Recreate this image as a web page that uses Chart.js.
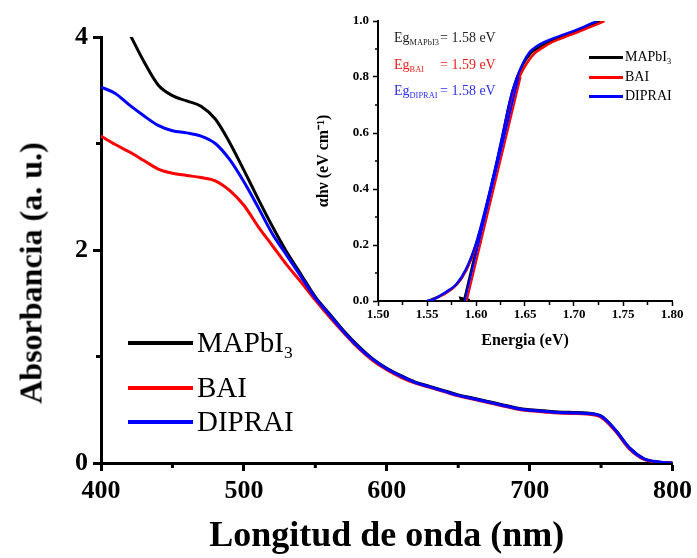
<!DOCTYPE html>
<html>
<head>
<meta charset="utf-8">
<script src="https://cdn.jsdelivr.net/npm/chart.js@4.4.0/dist/chart.umd.min.js"></script>
<style>
body { margin: 0; background: #fff; }
#wrap { position: relative; width: 697px; height: 558px; overflow: hidden; font-family: 'Liberation Serif', 'Times New Roman', serif; }
canvas { position: absolute; }
#main { left: 0; top: 0; }
#inset { left: 300px; top: 0; }
#ytitle { position: absolute; left: 31px; top: 273px; transform: translate(-50%, -50%) rotate(-90deg); font-weight: bold; font-size: 32px; white-space: nowrap; }
.txt { position: absolute; white-space: nowrap; line-height: 1; }
.ln { position: absolute; }
sub { font-size: 0.6em; vertical-align: -0.35em; line-height: 0; }
</style>
</head>
<body>
<div id="wrap">
  <canvas id="main" width="697" height="558"></canvas>
  <canvas id="inset" width="397" height="360"></canvas>
  <div id="ytitle">Absorbancia (a. u.)</div>
</div>
<script>
// absorbance spectra
const wavelengths = [400,410,420,430,440,450,460,470,480,490,500,510,520,530,540,550,560,570,580,590,600,
  610,620,630,640,650,660,670,680,690,700,710,720,730,740,750,760,770,780,790,800];
const absMAPbI3 = [null,null,4.03,3.77,3.55,3.45,3.40,3.35,3.23,3.01,2.75,2.48,2.22,1.98,1.77,1.56,
  1.40,1.24,1.10,0.98,0.89,0.82,0.76,0.72,0.68,0.64,0.61,0.58,0.55,0.52,0.50,0.49,0.48,0.475,0.47,0.44,0.31,0.14,0.04,0.01,0.0];
const absBAI = [3.07,2.99,2.92,2.84,2.76,2.72,2.70,2.68,2.65,2.56,2.42,2.22,2.04,1.86,1.70,1.53,
  1.37,1.22,1.08,0.965,0.875,0.805,0.75,0.71,0.67,0.63,0.60,0.57,0.54,0.51,0.49,0.48,0.47,0.465,0.46,0.43,0.30,0.13,0.035,0.008,0.0];
const absDIPRAI = [3.53,3.47,3.36,3.26,3.17,3.12,3.10,3.07,3.00,2.85,2.64,2.40,2.15,1.95,1.75,1.55,
  1.39,1.23,1.09,0.975,0.885,0.815,0.755,0.715,0.675,0.635,0.605,0.575,0.545,0.515,0.495,0.485,0.475,0.47,0.465,0.44,0.31,0.14,0.04,0.01,0.0];

// tauc plot (inset)
const eMAPbI3 = [1.551,1.558,1.567,1.576,1.585,1.595,1.605,1.615,1.625,1.634,1.641,1.648,1.656,1.664,1.674,1.686,1.698,1.710,1.720,1.727];
const tMAPbI3 = [0.000,0.010,0.025,0.045,0.080,0.150,0.260,0.400,0.555,0.705,0.790,0.845,0.885,0.905,0.925,0.943,0.958,0.975,0.990,1.000];
const eBAI = [1.552,1.560,1.570,1.580,1.590,1.600,1.610,1.620,1.630,1.638,1.645,1.652,1.660,1.668,1.678,1.690,1.700,1.712,1.722,1.731];
const tBAI = [0.000,0.012,0.030,0.058,0.110,0.195,0.325,0.470,0.625,0.740,0.805,0.850,0.885,0.905,0.925,0.942,0.955,0.972,0.986,1.000];
const eDIPRAI = [1.550,1.556,1.564,1.572,1.580,1.590,1.600,1.610,1.620,1.630,1.636,1.642,1.648,1.655,1.662,1.670,1.680,1.690,1.700,1.710,1.7235];
const tDIPRAI = [0.000,0.005,0.020,0.038,0.060,0.115,0.205,0.335,0.480,0.640,0.735,0.800,0.850,0.890,0.910,0.925,0.940,0.952,0.965,0.979,1.000];

// linear fits (x intercept = band gap)
const fitMAPbI3E = [1.5875, 1.6418], fitMAPbI3T = [0, 0.8];
const fitBAIE = [1.5905, 1.6455], fitBAIT = [0, 0.8];
const fitDIPRAIE = [1.5885, 1.6435], fitDIPRAIT = [0, 0.8];

const seriesNames = ['MAPbI3', 'BAI', 'DIPRAI'];
const seriesColors = ['#000000', '#ff0000', '#0000ff'];
const egLabels = ['MAPbI3', 'BAI', 'DIPRAI'];
const egValues = ['1.58', '1.59', '1.58'];
const egColors = ['#222222', '#ee1c1c', '#3030ee'];

const FONT = "'Liberation Serif', 'Times New Roman', serif";

function pts(xs, ys) {
    const out = [];
    xs.forEach((x, i) => { if (ys[i] !== null) out.push({x: x, y: ys[i]}); });
    return out;
}

function sub(name) {
    return name.replace(/(\d+)$/, '<sub>$1</sub>');
}

// short ticks between the labelled ones
const minorCfg = {
    main: {
        x: {isMajor: v => v % 100 === 0, len: 5, width: 3},
        y: {isMajor: v => v % 2 === 0, len: 5, width: 3}
    },
    inset: {
        x: {isMajor: v => Math.round(v * 1000) % 50 === 0, len: 4, width: 1.5},
        y: {isMajor: v => Math.round(v * 10) % 2 === 0, len: 3, width: 1.5}
    }
};

const minorTicks = {
    id: 'minorTicks',
    afterDraw(chart) {
        const cfg = minorCfg[chart.canvas.id];
        const ctx = chart.ctx;
        ctx.save();
        ctx.strokeStyle = '#000';
        ['x', 'y'].forEach(id => {
            const s = chart.scales[id];
            const c = cfg[id];
            ctx.lineWidth = c.width;
            s.ticks.forEach(t => {
                if (c.isMajor(t.value)) return;
                const p = s.getPixelForValue(t.value);
                ctx.beginPath();
                if (id === 'x') {
                    ctx.moveTo(p, s.top);
                    ctx.lineTo(p, s.top + c.len);
                } else {
                    ctx.moveTo(s.right, p);
                    ctx.lineTo(s.right - c.len, p);
                }
                ctx.stroke();
            });
        });
        ctx.restore();
    }
};

// MAIN CHART
const mainSeries = [absMAPbI3, absBAI, absDIPRAI];
const mainChart = new Chart(document.getElementById('main').getContext('2d'), {
    type: 'line',
    data: {
        datasets: mainSeries.map((s, i) => ({
            label: seriesNames[i],
            data: pts(wavelengths, s),
            borderColor: seriesColors[i],
            borderWidth: 3,
            pointRadius: 0,
            cubicInterpolationMode: 'monotone',
            fill: false,
            order: 3 - i
        }))
    },
    options: {
        responsive: false,
        animation: false,
        devicePixelRatio: 1,
        layout: {padding: {top: 37, right: 20, left: 0, bottom: 0}},
        plugins: {legend: {display: false}, tooltip: {enabled: false}},
        scales: {
            x: {
                type: 'linear',
                min: 400,
                max: 800,
                afterFit: s => { s.height = 95; },
                border: {color: '#000', width: 3},
                grid: {
                    drawOnChartArea: false,
                    tickLength: 8,
                    tickWidth: 3,
                    tickColor: c => c.tick && c.tick.value % 100 === 0 ? '#000' : 'rgba(0,0,0,0)'
                },
                ticks: {
                    stepSize: 50,
                    autoSkip: false,
                    maxRotation: 0,
                    padding: 5,
                    color: '#000',
                    font: {family: FONT, size: 26, weight: 'bold'},
                    callback: v => v % 100 === 0 ? v : ''
                },
                title: {
                    display: true,
                    text: 'Longitud de onda (nm)',
                    color: '#000',
                    font: {family: FONT, size: 36, weight: 'bold'},
                    padding: {top: 0, bottom: 0}
                }
            },
            y: {
                min: 0,
                max: 4,
                afterFit: s => { s.width = 101; },
                border: {color: '#000', width: 3},
                grid: {
                    drawOnChartArea: false,
                    tickLength: 8,
                    tickWidth: 3,
                    tickColor: c => c.tick && c.tick.value % 2 === 0 ? '#000' : 'rgba(0,0,0,0)'
                },
                ticks: {
                    stepSize: 1,
                    autoSkip: false,
                    padding: 5,
                    color: '#000',
                    font: {family: FONT, size: 26, weight: 'bold'},
                    callback: v => v % 2 === 0 ? v : ''
                }
            }
        }
    },
    plugins: [minorTicks]
});

// INSET CHART
const insetCurves = [[eMAPbI3, tMAPbI3], [eBAI, tBAI], [eDIPRAI, tDIPRAI]];
const insetFits = [[fitMAPbI3E, fitMAPbI3T], [fitBAIE, fitBAIT], [fitDIPRAIE, fitDIPRAIT]];
const insetSets = [];
insetCurves.forEach((c, i) => {
    insetSets.push({
        label: seriesNames[i],
        data: pts(c[0], c[1]),
        borderColor: seriesColors[i],
        borderWidth: 2.5,
        pointRadius: 0,
        cubicInterpolationMode: 'monotone',
        order: 6 - 2 * i
    });
    insetSets.push({
        label: seriesNames[i] + ' fit',
        data: pts(insetFits[i][0], insetFits[i][1]),
        borderColor: seriesColors[i],
        backgroundColor: seriesColors[i],
        borderWidth: 2,
        pointRadius: i === 0 ? [5, 0] : 0,
        pointStyle: 'triangle',
        rotation: 193,
        order: 5 - 2 * i
    });
});

const insetChart = new Chart(document.getElementById('inset').getContext('2d'), {
    type: 'line',
    data: {datasets: insetSets},
    options: {
        responsive: false,
        animation: false,
        devicePixelRatio: 1,
        layout: {padding: {top: 21, right: 25, left: 0, bottom: 0}},
        plugins: {legend: {display: false}, tooltip: {enabled: false}},
        scales: {
            x: {
                type: 'linear',
                min: 1.5,
                max: 1.8,
                afterFit: s => { s.height = 59; },
                border: {color: '#000', width: 2},
                grid: {
                    drawOnChartArea: false,
                    tickLength: 5,
                    tickWidth: 1.5,
                    tickColor: c => c.tick && Math.round(c.tick.value * 1000) % 50 === 0 ? '#000' : 'rgba(0,0,0,0)'
                },
                ticks: {
                    stepSize: 0.025,
                    autoSkip: false,
                    maxRotation: 0,
                    padding: 1,
                    color: '#000',
                    font: {family: FONT, size: 13, weight: 'bold'},
                    callback: v => Math.round(v * 1000) % 50 === 0 ? v.toFixed(2) : ''
                },
                title: {
                    display: true,
                    text: 'Energia (eV)',
                    color: '#000',
                    font: {family: FONT, size: 16, weight: 'bold'},
                    padding: {top: 0, bottom: 10}
                }
            },
            y: {
                min: 0,
                max: 1,
                afterFit: s => { s.width = 78; },
                border: {color: '#000', width: 2},
                grid: {
                    drawOnChartArea: false,
                    tickLength: 5,
                    tickWidth: 1.5,
                    tickColor: c => c.tick && Math.round(c.tick.value * 10) % 2 === 0 ? '#000' : 'rgba(0,0,0,0)'
                },
                ticks: {
                    stepSize: 0.1,
                    autoSkip: false,
                    padding: 4,
                    color: '#000',
                    font: {family: FONT, size: 13, weight: 'bold'},
                    callback: v => Math.round(v * 10) % 2 === 0 ? v.toFixed(1) : ''
                },
                title: {
                    display: true,
                    text: 'αhν (eV cm⁻¹)',
                    color: '#000',
                    font: {family: FONT, size: 16, weight: 'bold'},
                    padding: {top: 14, bottom: 0}
                }
            }
        }
    },
    plugins: [minorTicks]
});

// legends and band gap labels (html so the subscripts stay real text)
const wrap = document.getElementById('wrap');
function addLine(left, top, width, height, color) {
    const d = document.createElement('div');
    d.className = 'ln';
    d.style.cssText = 'left:' + left + 'px;top:' + top + 'px;width:' + width + 'px;height:' + height + 'px;background:' + color;
    wrap.appendChild(d);
}
function addText(html, left, top, size, color, weight) {
    const d = document.createElement('div');
    d.className = 'txt';
    d.innerHTML = html;
    d.style.cssText = 'left:' + left + 'px;top:' + top + 'px;font-size:' + size + 'px;color:' + color + ';font-weight:' + (weight || 'normal');
    wrap.appendChild(d);
    return d;
}

// main legend
const mainLegY = [343, 388, 422];
seriesNames.forEach((n, i) => {
    addLine(128, mainLegY[i] - 2, 65, 4, seriesColors[i]);
    addText(sub(n), 197, mainLegY[i] - 15, 29, '#000');
});

// inset legend
const insetLegY = [57, 77, 96];
seriesNames.forEach((n, i) => {
    addLine(589, insetLegY[i] - 1, 34, 2.5, seriesColors[i]);
    addText(sub(n), 625, insetLegY[i] - 7, 14, '#000');
});

// band gap labels
const egY = [31, 58, 84];
egLabels.forEach((n, i) => {
    addText('<span style="display:inline-block;width:46px">Eg<sub>' + n + '</sub></span>= ' + egValues[i] + ' eV',
        394, egY[i], 14, egColors[i]);
});
</script>
</body>
</html>
